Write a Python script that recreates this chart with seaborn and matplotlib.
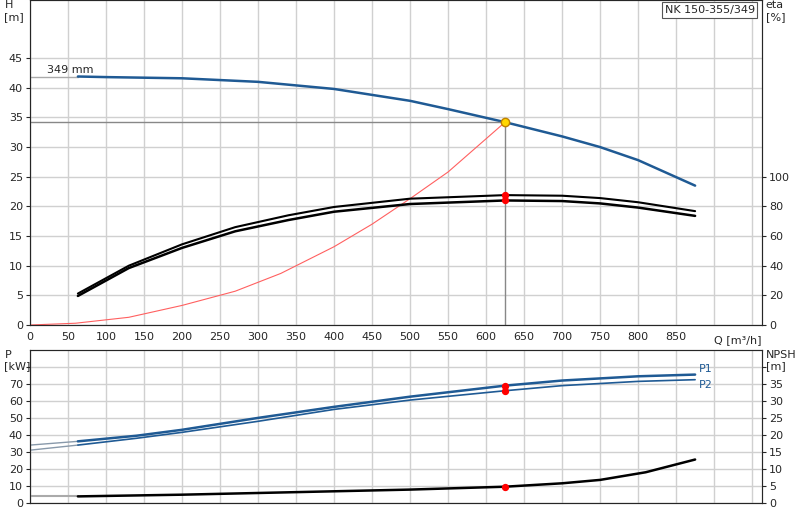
import matplotlib
matplotlib.use("Agg")
import matplotlib.pyplot as plt
import seaborn as sns
import pandas as pd

sns.set_style("white")
plt.rcParams['font.family'] = ['DejaVu Sans']

q_h = [63, 100, 200, 300, 400, 500, 550, 625, 700, 750, 800, 875]
h = [41.9, 41.8, 41.6, 41.0, 39.8, 37.8, 36.4, 34.2, 31.8, 30.0, 27.8, 23.5]
q_eta = [63, 130, 200, 270, 340, 400, 500, 625, 700, 750, 800, 875]
eta_upper = [21.2, 40.0, 54.4, 66.0, 74.0, 79.6, 85.2, 87.6, 87.2, 85.6, 82.8, 76.8]
eta_lower = [19.6, 38.4, 52.0, 63.2, 70.8, 76.4, 81.6, 84.0, 83.6, 82.0, 79.2, 73.6]
q_sys = [0, 60, 130, 200, 270, 330, 400, 450, 500, 550, 625]
h_sys = [0, 0.3, 1.3, 3.3, 5.7, 8.7, 13.2, 17.0, 21.3, 25.8, 34.2]
q_p = [63, 140, 200, 300, 400, 500, 625, 700, 800, 875]
p1 = [36.2, 39.5, 43.0, 50.0, 56.5, 62.5, 69.0, 72.0, 74.5, 75.5]
p2 = [34.0, 38.0, 41.5, 48.0, 55.0, 60.5, 66.0, 69.0, 71.5, 72.5]
q_npsh = [63, 200, 300, 400, 500, 625, 700, 750, 810, 875]
npsh = [1.9, 2.4, 2.9, 3.4, 3.9, 4.75, 5.75, 6.75, 9.0, 12.75]
q_op, h_op = 625, 34.2
eta_op = [87.6, 84.0]
p_op = [69.0, 66.0]
npsh_op = 4.75

blue = "#1f5a94"
fig = plt.figure(figsize=(8, 5.2), dpi=100)
ax = fig.add_axes([0.0375, 0.375, 0.915, 0.625])
axe = ax.twinx()
bx = fig.add_axes([0.0375, 0.033, 0.915, 0.294])
bxn = bx.twinx()

for a in (ax, bx):
    a.set_xlim(0, 963)
    a.set_xticks(range(0, 951, 50))
    a.grid(True, color="#d0d0d0", lw=1)
    for s in a.spines.values():
        s.set_color("#555555")
ax.set_ylim(0, 54.8)
ax.set_yticks(range(0, 50, 5))
axe.set_ylim(0, 54.8 * 4)
axe.set_yticks(range(0, 101, 20))
bx.set_ylim(0, 90)
bx.set_yticks(range(0, 81, 10))
bx.set_yticklabels([str(v) for v in range(0, 71, 10)] + [""])
bxn.set_ylim(0, 45)
bxn.set_yticks(range(0, 41, 5))
bxn.set_yticklabels([str(v) for v in range(0, 36, 5)] + [""])
bx.set_xticklabels([])
bx.tick_params(axis='x', length=0)
labs = [str(v) for v in range(0, 851, 50)] + ["", ""]
ax.set_xticklabels(labs)
for a in (ax, axe, bx, bxn):
    a.tick_params(labelsize=8, length=3, pad=2)

ax.plot([0, 63], [41.9, 41.9], color="#aaaaaa", lw=1)
sns.lineplot(x=q_h, y=h, ax=ax, color=blue, lw=1.8)
ax.plot([0, q_op], [h_op, h_op], color="#888888", lw=1)
ax.plot([q_op, q_op], [0, h_op], color="#888888", lw=1)
sns.lineplot(x=q_sys, y=h_sys, ax=ax, color="#ff6060", lw=0.8)
sns.lineplot(x=q_eta, y=eta_upper, ax=axe, color="black", lw=1.5)
sns.lineplot(x=q_eta, y=eta_lower, ax=axe, color="black", lw=1.8)
axe.scatter([q_op, q_op], eta_op, color="red", s=18, zorder=5)
ax.scatter([q_op], [h_op], color="#ffd700", edgecolor="#c08000", s=36, zorder=6)
ax.text(22, 42.5, "349 mm", fontsize=8)
ax.text(-0.035, 1.0, "H\n[m]", transform=ax.transAxes, fontsize=8, va="top")
axe.text(1.005, 1.0, "eta\n[%]", transform=ax.transAxes, fontsize=8, va="top")
ax.text(0.99, 0.985, "NK 150-355/349", transform=ax.transAxes, fontsize=8, va="top", ha="right",
        bbox=dict(boxstyle="square,pad=0.25", fc="white", ec="#555555", lw=0.8))
ax.text(1.0, -0.03, "Q [m³/h]", transform=ax.transAxes, fontsize=8, va="top", ha="right")

bx.plot([0, 63], [34.0, 36.2], color="#8899aa", lw=1)
bx.plot([0, 63], [31.0, 34.0], color="#8899aa", lw=1)
sns.lineplot(x=q_p, y=p1, ax=bx, color=blue, lw=1.8)
sns.lineplot(x=q_p, y=p2, ax=bx, color=blue, lw=1.2)
bx.scatter([q_op, q_op], p_op, color="red", s=18, zorder=5)
bx.text(880, 77, "P1", color=blue, fontsize=8)
bx.text(880, 67.5, "P2", color=blue, fontsize=8)
bxn.plot([0, 63], [1.9, 1.9], color="#aaaaaa", lw=1.5)
sns.lineplot(x=q_npsh, y=npsh, ax=bxn, color="black", lw=1.8)
bxn.scatter([q_op], [npsh_op], color="red", s=18, zorder=5)
bx.text(-0.035, 1.0, "P\n[kW]", transform=bx.transAxes, fontsize=8, va="top")
bxn.text(1.005, 1.0, "NPSH\n[m]", transform=bx.transAxes, fontsize=8, va="top")
for a in (ax, axe, bx, bxn):
    a.set_xlabel(""); a.set_ylabel("")
fig.savefig("out.png", dpi=100)
